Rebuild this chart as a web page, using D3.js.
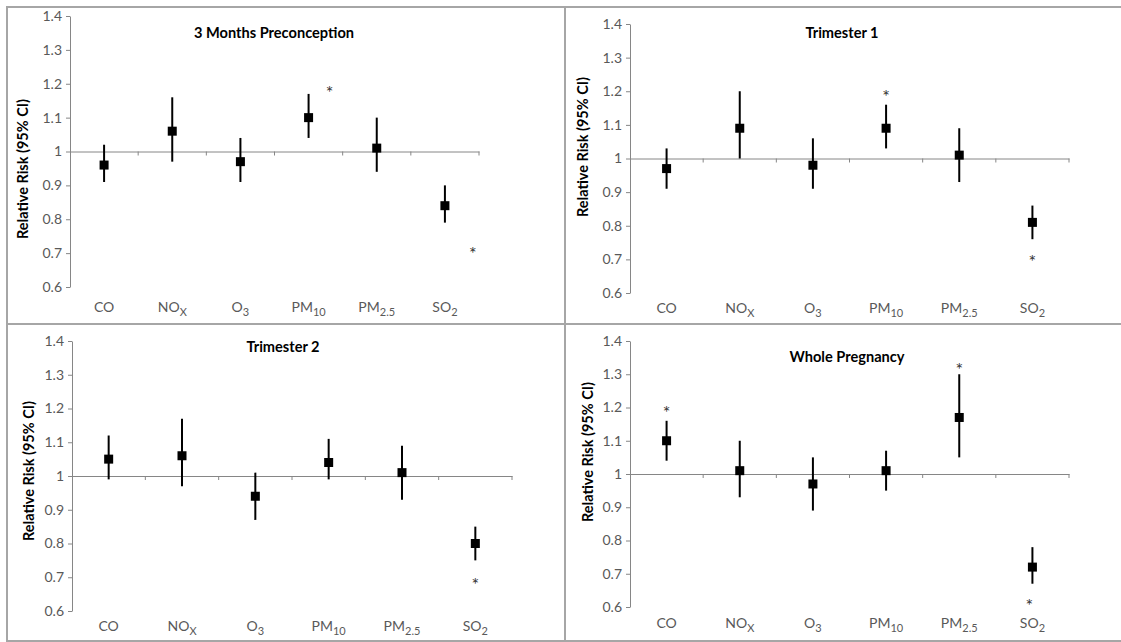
<!DOCTYPE html>
<html>
<head>
<meta charset="utf-8">
<script src="https://cdn.jsdelivr.net/npm/d3@7"></script>
<style>
  body { margin: 0; background: #fff; }
  text { font-family: Lato, "Open Sans", sans-serif; }
</style>
</head>
<body>
<script>
// pollutants on the x axis
var categories = ["CO", "NOx", "O3", "PM10", "PM2.5", "SO2"];
var catLabels = [["CO", ""], ["NO", "X"], ["O", "3"], ["PM", "10"], ["PM", "2.5"], ["SO", "2"]];
var yTicks = [0.6, 0.7, 0.8, 0.9, 1.0, 1.1, 1.2, 1.3, 1.4];
var yTickLabels = ["0.6", "0.7", "0.8", "0.9", "1", "1.1", "1.2", "1.3", "1.4"];

// relative risk + 95% CI
var preconRR = [0.96, 1.06, 0.97, 1.10, 1.01, 0.84];
var preconLo = [0.91, 0.97, 0.91, 1.04, 0.94, 0.79];
var preconHi = [1.02, 1.16, 1.04, 1.17, 1.10, 0.90];
var preconStars = [["PM10", 1.185], ["SO2", 0.71]];

var tri1RR = [0.97, 1.09, 0.98, 1.09, 1.01, 0.81];
var tri1Lo = [0.91, 1.00, 0.91, 1.03, 0.93, 0.76];
var tri1Hi = [1.03, 1.20, 1.06, 1.16, 1.09, 0.86];
var tri1Stars = [["PM10", 1.195], ["SO2", 0.705]];

var tri2RR = [1.05, 1.06, 0.94, 1.04, 1.01, 0.80];
var tri2Lo = [0.99, 0.97, 0.87, 0.99, 0.93, 0.75];
var tri2Hi = [1.12, 1.17, 1.01, 1.11, 1.09, 0.85];
var tri2Stars = [["SO2", 0.69]];

var wholeRR = [1.10, 1.01, 0.97, 1.01, 1.17, 0.72];
var wholeLo = [1.04, 0.93, 0.89, 0.95, 1.05, 0.67];
var wholeHi = [1.16, 1.10, 1.05, 1.07, 1.30, 0.78];
var wholeStars = [["CO", 1.195], ["PM2.5", 1.325], ["SO2", 0.615]];

var width = 1121, height = 642;
var svg = d3.select("body").append("svg")
  .attr("width", width)
  .attr("height", height);

// layout of the four panels
var panels = [
  { title: "3 Months Preconception", rr: preconRR, lo: preconLo, hi: preconHi, stars: preconStars,
    frame: [7, 7, 558, 317], plot: [70, 16, 479, 287], titleXY: [274, 38], ylab: [23, 169], xlabY: 312,
    starDx: { "PM10": 21, "SO2": 28 } },
  { title: "Trimester 1", rr: tri1RR, lo: tri1Lo, hi: tri1Hi, stars: tri1Stars,
    frame: [565, 7, 570, 317], plot: [630, 24, 1069, 293], titleXY: [842, 38], ylab: [583, 147], xlabY: 313,
    starDx: {} },
  { title: "Trimester 2", rr: tri2RR, lo: tri2Lo, hi: tri2Hi, stars: tri2Stars,
    frame: [7, 324, 558, 317], plot: [72, 341, 512, 611], titleXY: [283, 352], ylab: [29, 471], xlabY: 631,
    starDx: {} },
  { title: "Whole Pregnancy", rr: wholeRR, lo: wholeLo, hi: wholeHi, stars: wholeStars,
    frame: [565, 324, 570, 317], plot: [630, 341, 1069, 607], titleXY: [847, 362], ylab: [588, 452], xlabY: 628,
    starDx: { "SO2": -3 } }
];

panels.forEach(function(p) {
  var g = svg.append("g");

  g.append("rect")
    .attr("x", p.frame[0]).attr("y", p.frame[1])
    .attr("width", p.frame[2]).attr("height", p.frame[3])
    .attr("fill", "none")
    .attr("stroke", "#a6a6a6")
    .attr("stroke-width", 2);

  var x = d3.scaleBand().domain(categories).range([p.plot[0], p.plot[2]]);
  var y = d3.scaleLinear().domain([0.6, 1.4]).range([p.plot[3], p.plot[1]]);

  // y axis
  var yAxis = d3.axisLeft(y).tickValues(yTicks).tickSize(4).tickSizeOuter(0)
    .tickFormat(function(d, i) { return yTickLabels[i]; });
  var ya = g.append("g").attr("transform", "translate(" + p.plot[0] + ",0)").call(yAxis);
  ya.select(".domain").attr("stroke", "#868686");
  ya.selectAll(".tick line").attr("stroke", "#868686");
  ya.selectAll(".tick text").attr("fill", "#595959").style("font-size", "14px").attr("x", -8);

  // horizontal axis crossing at 1
  var xa = g.append("g").attr("transform", "translate(0," + y(1) + ")")
    .call(d3.axisBottom(x).tickSize(0).tickFormat(""));
  xa.select(".domain").attr("stroke", "#868686");
  g.selectAll(null)
    .data(categories)
    .enter().append("line")
    .attr("x1", function(d) { return x(d) + x.bandwidth(); })
    .attr("x2", function(d) { return x(d) + x.bandwidth(); })
    .attr("y1", y(1)).attr("y2", y(1) + 4)
    .attr("stroke", "#868686");

  // category labels along the bottom
  var lab = g.selectAll(null)
    .data(categories)
    .enter().append("text")
    .attr("x", function(d) { return x(d) + x.bandwidth() / 2; })
    .attr("y", p.xlabY)
    .attr("text-anchor", "middle")
    .attr("fill", "#595959")
    .style("font-size", "14px");
  lab.append("tspan").text(function(d, i) { return catLabels[i][0]; });
  lab.append("tspan").attr("dy", 4).style("font-size", "11px")
    .text(function(d, i) { return catLabels[i][1]; });

  // error bars
  g.selectAll(null)
    .data(categories)
    .enter().append("line")
    .attr("x1", function(d) { return x(d) + x.bandwidth() / 2; })
    .attr("x2", function(d) { return x(d) + x.bandwidth() / 2; })
    .attr("y1", function(d, i) { return y(p.lo[i]); })
    .attr("y2", function(d, i) { return y(p.hi[i]); })
    .attr("stroke", "#000")
    .attr("stroke-width", 2);

  // point estimates
  g.selectAll(null)
    .data(categories)
    .enter().append("rect")
    .attr("x", function(d) { return x(d) + x.bandwidth() / 2 - 4.5; })
    .attr("y", function(d, i) { return y(p.rr[i]) - 4.5; })
    .attr("width", 9).attr("height", 9)
    .attr("fill", "#000");

  // significance markers
  g.selectAll(null)
    .data(p.stars)
    .enter().append("text")
    .attr("x", function(d) { return x(d[0]) + x.bandwidth() / 2 + (p.starDx[d[0]] || 0); })
    .attr("y", function(d) { return y(d[1]) + 10; })
    .attr("text-anchor", "middle")
    .attr("fill", "#333")
    .style("font-size", "18px")
    .text("*");

  g.append("text")
    .attr("x", p.titleXY[0]).attr("y", p.titleXY[1])
    .attr("text-anchor", "middle")
    .style("font-size", "14.6px")
    .style("font-weight", "bold")
    .text(p.title);

  g.append("text")
    .attr("transform", "translate(" + p.ylab[0] + "," + p.ylab[1] + ") rotate(-90)")
    .attr("text-anchor", "middle")
    .attr("dy", "0.35em")
    .style("font-size", "14.5px")
    .style("font-weight", "bold")
    .text("Relative Risk (95% CI)");
});
</script>
</body>
</html>
